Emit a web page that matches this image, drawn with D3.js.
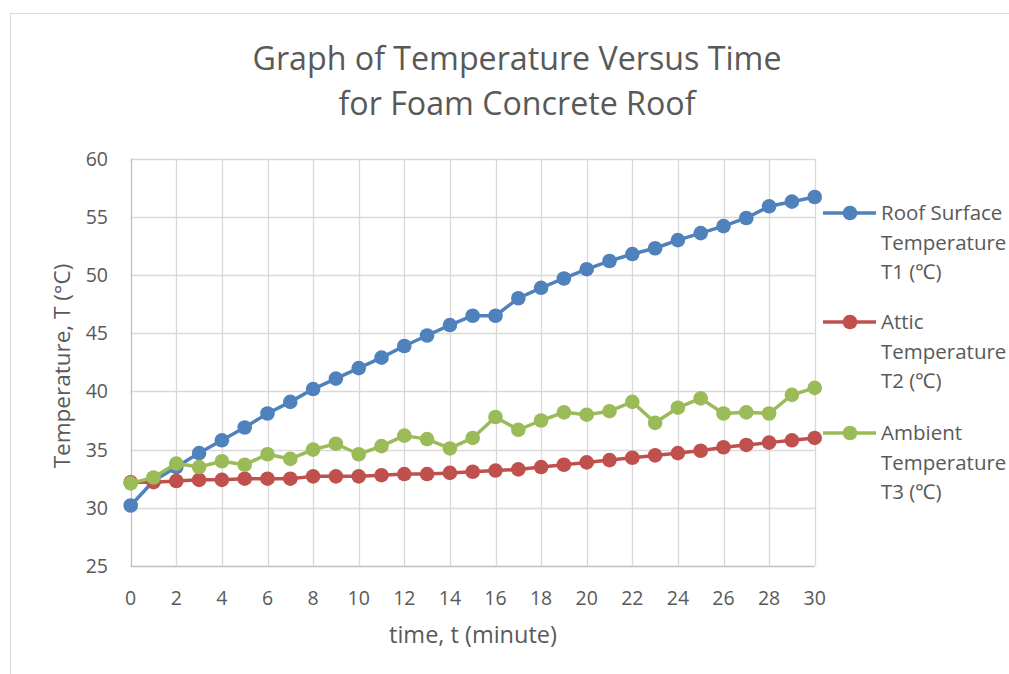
<!DOCTYPE html>
<html>
<head>
<meta charset="utf-8">
<script src="https://cdn.jsdelivr.net/npm/d3@7"></script>
<style>
  html, body { margin: 0; padding: 0; background: #ffffff; }
  svg { display: block; }
  text { font-family: "Open Sans", Lato, sans-serif; fill: #595959; }
</style>
</head>
<body>
<svg id="chart" width="1009" height="674"></svg>
<script>
// ---- data ----
const times = d3.range(0, 31);
const roofSurfaceT1 = [30.2, 32.3, 33.5, 34.7, 35.8, 36.9, 38.1, 39.1, 40.2, 41.1, 42.0, 42.9, 43.9, 44.8, 45.7, 46.5, 46.5, 48.0, 48.9, 49.7, 50.5, 51.2, 51.8, 52.3, 53.0, 53.6, 54.2, 54.9, 55.9, 56.3, 56.7];
const atticT2 = [32.2, 32.2, 32.3, 32.4, 32.4, 32.5, 32.5, 32.5, 32.7, 32.7, 32.7, 32.8, 32.9, 32.9, 33.0, 33.1, 33.2, 33.3, 33.5, 33.7, 33.9, 34.1, 34.3, 34.5, 34.7, 34.9, 35.2, 35.4, 35.6, 35.8, 36.0];
const ambientT3 = [32.1, 32.6, 33.8, 33.5, 34.0, 33.7, 34.6, 34.2, 35.0, 35.5, 34.6, 35.3, 36.2, 35.9, 35.1, 36.0, 37.8, 36.7, 37.5, 38.2, 38.0, 38.3, 39.1, 37.3, 38.6, 39.4, 38.1, 38.2, 38.1, 39.7, 40.3];
const seriesNames = [["Roof Surface", "Temperature", "T1 (\u2103)"], ["Attic", "Temperature", "T2 (\u2103)"], ["Ambient", "Temperature", "T3 (\u2103)"]];
const seriesColors = ["#4F81BD", "#C0504D", "#9BBB59"];
const xTicks = d3.range(0, 31, 2);
const yTicks = d3.range(25, 61, 5);
const titleLines = ["Graph of Temperature Versus Time", "for Foam Concrete Roof"];
const xTitle = "time, t (minute)";
const yTitle = "Temperature, T (\u00B0C)";

const allSeries = [roofSurfaceT1, atticT2, ambientT3];

// ---- layout ----
const svg = d3.select("#chart");
const x = d3.scaleLinear().domain([0, 30]).range([130.7, 814.7]);
const y = d3.scaleLinear().domain([25, 60]).range([566, 158.6]);

// chart border
svg.append("rect").attr("x", 10.5).attr("y", 13.5).attr("width", 1100).attr("height", 800)
  .attr("fill", "none").attr("stroke", "#d9d9d9").attr("stroke-width", 1);

// gridlines
svg.append("g").selectAll("line").data(yTicks.slice(1)).join("line")
  .attr("x1", x(0)).attr("x2", x(30))
  .attr("y1", d => Math.round(y(d)) + 0.5).attr("y2", d => Math.round(y(d)) + 0.5)
  .attr("stroke", "#d9d9d9").attr("stroke-width", 1.3);
svg.append("g").selectAll("line").data(xTicks.slice(1)).join("line")
  .attr("y1", y(25)).attr("y2", y(60))
  .attr("x1", d => Math.round(x(d)) + 0.5).attr("x2", d => Math.round(x(d)) + 0.5)
  .attr("stroke", "#d9d9d9").attr("stroke-width", 1.3);

// axis lines
svg.append("line").attr("x1", Math.round(x(0)) + 0.5).attr("x2", Math.round(x(0)) + 0.5)
  .attr("y1", y(25)).attr("y2", y(60)).attr("stroke", "#bfbfbf").attr("stroke-width", 1.3);
svg.append("line").attr("x1", x(0)).attr("x2", x(30))
  .attr("y1", Math.round(y(25)) + 0.5).attr("y2", Math.round(y(25)) + 0.5)
  .attr("stroke", "#bfbfbf").attr("stroke-width", 1.3);

// tick labels
svg.append("g").selectAll("text").data(yTicks).join("text")
  .attr("x", 108).attr("y", d => y(d) + 7)
  .attr("text-anchor", "end").attr("font-size", 19.5).text(d => d);
svg.append("g").selectAll("text").data(xTicks).join("text")
  .attr("x", d => x(d)).attr("y", 605)
  .attr("text-anchor", "middle").attr("font-size", 19.5).text(d => d);

// axis titles
svg.append("text").attr("x", 473).attr("y", 643).attr("text-anchor", "middle")
  .attr("font-size", 23.5).text(xTitle);
svg.append("text").attr("transform", "translate(70,366) rotate(-90)")
  .attr("text-anchor", "middle").attr("font-size", 22.5).text(yTitle);

// title
svg.append("g").selectAll("text").data(titleLines).join("text")
  .attr("x", 517).attr("y", (d, i) => 70 + i * 45)
  .attr("text-anchor", "middle").attr("font-size", 32.2).text(d => d);

// series
const line = d3.line().x((d, i) => x(times[i])).y(d => y(d));
allSeries.forEach((vals, si) => {
  const g = svg.append("g");
  g.append("path").datum(vals).attr("d", line)
    .attr("fill", "none").attr("stroke", seriesColors[si]).attr("stroke-width", 3.5)
    .attr("stroke-linejoin", "round");
  g.selectAll("circle").data(vals).join("circle")
    .attr("cx", (d, i) => x(times[i])).attr("cy", d => y(d)).attr("r", 7.3)
    .attr("fill", seriesColors[si]);
});

// legend
const legendY = [213, 322, 433];
seriesNames.forEach((lines, si) => {
  const g = svg.append("g");
  g.append("line").attr("x1", 823).attr("x2", 876).attr("y1", legendY[si]).attr("y2", legendY[si])
    .attr("stroke", seriesColors[si]).attr("stroke-width", 3.5);
  g.append("circle").attr("cx", 850).attr("cy", legendY[si]).attr("r", 7.3).attr("fill", seriesColors[si]);
  lines.forEach((t, li) => {
    g.append("text").attr("x", 881).attr("y", legendY[si] + 7 + li * 29.5)
      .attr("font-size", 20.5).text(t);
  });
});
</script>
</body>
</html>
